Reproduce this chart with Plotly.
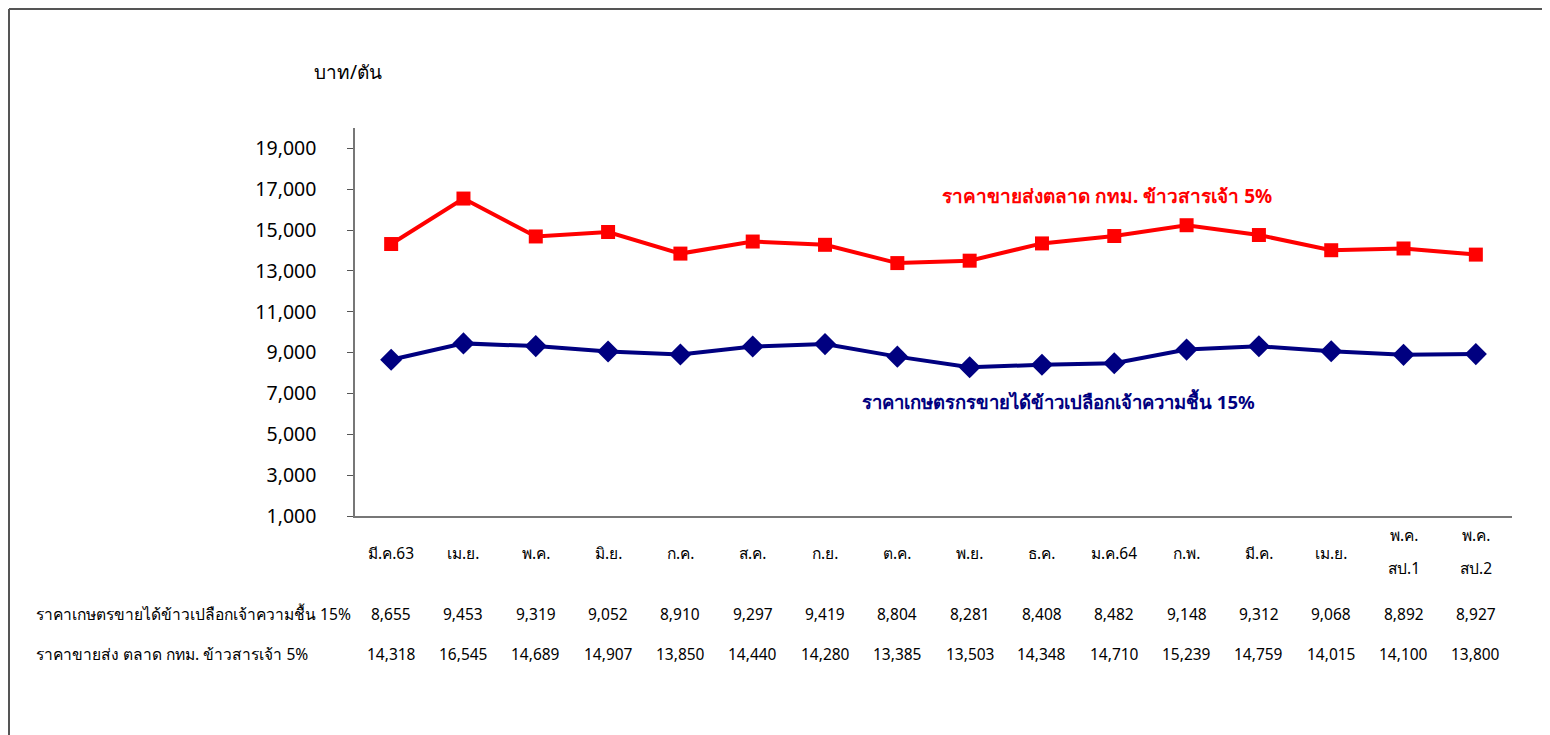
import plotly.graph_objects as go

categories = ["มี.ค.63", "เม.ย.", "พ.ค.", "มิ.ย.", "ก.ค.", "ส.ค.", "ก.ย.", "ต.ค.",
              "พ.ย.", "ธ.ค.", "ม.ค.64", "ก.พ.", "มี.ค.", "เม.ย.", "พ.ค.<br>สป.1", "พ.ค.<br>สป.2"]
farm_price = [8655, 9453, 9319, 9052, 8910, 9297, 9419, 8804, 8281, 8408, 8482, 9148, 9312, 9068, 8892, 8927]
wholesale_price = [14318, 16545, 14689, 14907, 13850, 14440, 14280, 13385, 13503, 14348, 14710, 15239, 14759, 14015, 14100, 13800]
farm_name = "ราคาเกษตรกรขายได้ข้าวเปลือกเจ้าความชื้น 15%"
wholesale_name = "ราคาขายส่งตลาด กทม. ข้าวสารเจ้า 5%"
farm_row_label = "ราคาเกษตรขายได้ข้าวเปลือกเจ้าความชื้น 15%"
wholesale_row_label = "ราคาขายส่ง ตลาด กทม. ข้าวสารเจ้า 5%"
unit_label = "บาท/ตัน"
y_ticks = [1000, 3000, 5000, 7000, 9000, 11000, 13000, 15000, 17000, 19000]

FONT = "Noto Sans, DejaVu Sans, sans-serif"
OFF = 8  # page body margin
W, H = 1542, 727
L = 355 - OFF
T = 128 - OFF
R = W - (1512 - OFF)
B = H - (516 - OFF)

x_idx = list(range(len(categories)))

fig = go.Figure()
fig.add_trace(go.Scatter(
    x=x_idx, y=wholesale_price, mode="lines+markers", name=wholesale_name,
    line=dict(color="#FF0000", width=4),
    marker=dict(symbol="square", size=14, color="#FF0000"),
))
fig.add_trace(go.Scatter(
    x=x_idx, y=farm_price, mode="lines+markers", name=farm_name,
    line=dict(color="#000080", width=4),
    marker=dict(symbol="diamond", size=17, color="#000080"),
))

pw = W - L - R
ph = H - T - B

def py(ref_y):
    return 1 - ((ref_y - OFF) - T) / ph

def px(ref_x):
    return ((ref_x - OFF) - L) / pw

def txt(x, xref, y, text, size=15.5, color="#000", xanchor="center"):
    return dict(x=x, xref=xref, y=y, yref="paper", text=text, showarrow=False,
                xanchor=xanchor, yanchor="middle",
                font=dict(size=size, color=color, family=FONT))

ann = []
for i, c in enumerate(categories):
    parts = c.split("<br>")
    if len(parts) == 1:
        ann.append(txt(i, "x", py(553), parts[0]))
    else:
        ann.append(txt(i, "x", py(535), parts[0]))
        ann.append(txt(i, "x", py(568), parts[1]))
    ann.append(txt(i, "x", py(614), f"{farm_price[i]:,}"))
    ann.append(txt(i, "x", py(654), f"{wholesale_price[i]:,}"))
ann.append(txt(px(34), "paper", py(614), farm_row_label, xanchor="left", size=15.6))
ann.append(txt(px(34), "paper", py(654), wholesale_row_label, xanchor="left", size=15.6))
ann.append(txt(px(348), "paper", py(72), unit_label, size=19))
ann.append(txt(px(1107), "paper", py(196), "<b>" + wholesale_name + "</b>", size=19, color="#FF0000"))
ann.append(txt(px(1058), "paper", py(401), "<b>" + farm_name + "</b>", size=18.5, color="#000080"))

fig.update_layout(
    width=W, height=H,
    margin=dict(l=L, r=R, t=T, b=B, pad=0),
    paper_bgcolor="white", plot_bgcolor="white",
    showlegend=False,
    font=dict(family=FONT, size=16, color="#000"),
    annotations=ann,
    shapes=[
        dict(type="line", xref="paper", yref="paper",
             x0=px(9), x1=px(9), y0=py(9), y1=py(760),
             line=dict(color="#555", width=2)),
        dict(type="line", xref="paper", yref="paper",
             x0=px(9), x1=px(1600), y0=py(9), y1=py(9),
             line=dict(color="#555", width=2)),
    ],
)
fig.update_xaxes(range=[-0.5, len(categories) - 0.5], showticklabels=False, showgrid=False,
                 zeroline=False, showline=True, linecolor="#777", linewidth=1.5, ticks="")
fig.update_yaxes(range=[1000, 20000], tickvals=y_ticks, tickformat=",d", showgrid=False,
                 zeroline=False, showline=True, linecolor="#777", linewidth=1.5,
                 ticks="outside", ticklen=6, tickcolor="#555",
                 tickfont=dict(size=19.5, family=FONT), ticklabelstandoff=27)

fig.write_html("out.html")
